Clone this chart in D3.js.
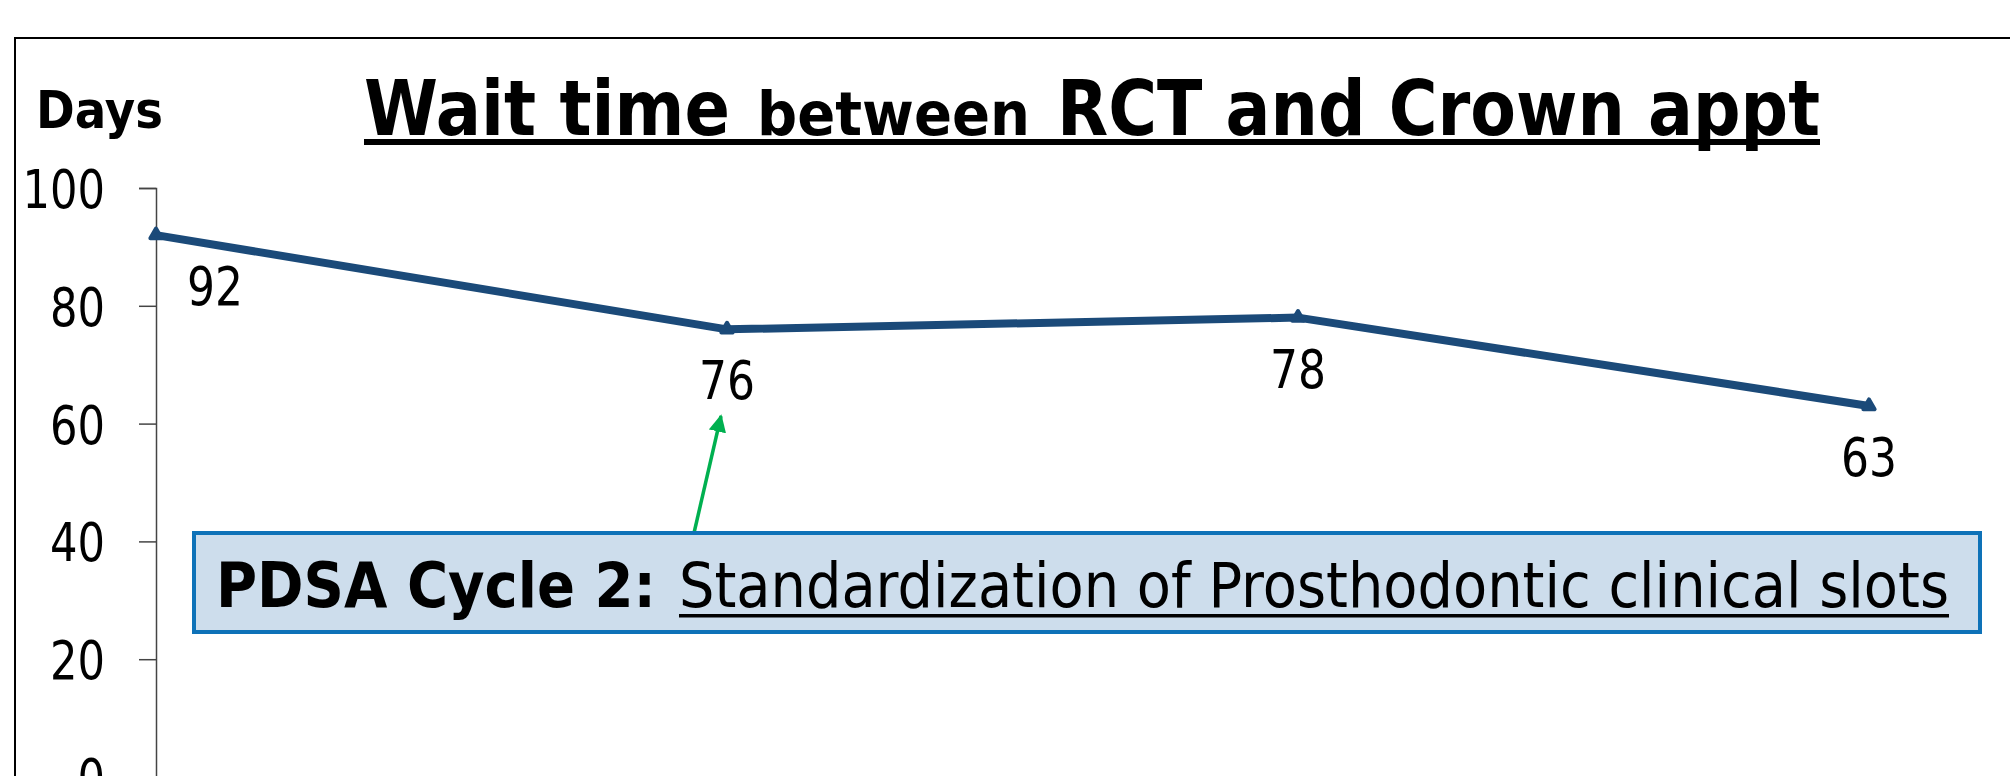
<!DOCTYPE html>
<html>
<head>
<meta charset="utf-8">
<script src="https://cdn.jsdelivr.net/npm/d3@7/dist/d3.min.js"></script>
<style>
html,body{margin:0;padding:0;background:#fff;overflow:hidden;}
svg{display:block;}
text{font-family:"DejaVu Sans",Verdana,sans-serif;fill:#000;}
</style>
</head>
<body>
<svg id="chart" width="2010" height="776"></svg>
<script>
// ---- data ----
const categories = ["Period 1", "Period 2", "Period 3", "Period 4"];
const waitDays = [92, 76, 78, 63];
const yTicks = [0, 20, 40, 60, 80, 100];
const titleParts = ["Wait time", "between", "RCT and Crown appt"];
const yAxisTitle = "Days";
const noteBold = "PDSA Cycle 2:";
const noteText = "Standardization of Prosthodontic clinical slots";

const svg = d3.select("#chart");

// outer chart frame
svg.append("rect")
  .attr("x", 15).attr("y", 38).attr("width", 2100).attr("height", 900)
  .attr("fill", "none").attr("stroke", "#000").attr("stroke-width", 2);

const x = d3.scalePoint().domain(categories).range([156, 1869]).padding(0);
const y = d3.scaleLinear().domain([0, 100]).range([777, 188]);

// y axis
const yAxis = svg.append("g")
  .attr("transform", "translate(156,0)")
  .call(d3.axisLeft(y).tickValues(yTicks).tickSize(17).tickPadding(34));
yAxis.select(".domain").attr("stroke", "#444").attr("stroke-width", 1.5);
yAxis.selectAll(".tick line").attr("stroke", "#444").attr("stroke-width", 1.5);
yAxis.selectAll(".tick text")
  .attr("font-family", "DejaVu Sans")
  .attr("font-size", 54)
  .attr("dy", "0.36em")
  .attr("fill", "#000")
  .attr("textLength", d => String(d).length * 27.5)
  .attr("lengthAdjust", "spacingAndGlyphs");

// x axis baseline (category labels lie below the visible frame, not shown)
svg.append("g")
  .attr("transform", "translate(0,777)")
  .call(d3.axisBottom(x).tickSize(0).tickFormat(""))
  .call(g => g.select(".domain").attr("stroke", "#444"));

// line
const data = categories.map((c, i) => ({c, v: waitDays[i]}));
svg.append("path")
  .datum(data)
  .attr("fill", "none")
  .attr("stroke", "#1B4A79")
  .attr("stroke-width", 8)
  .attr("stroke-linejoin", "round")
  .attr("d", d3.line().x(d => x(d.c)).y(d => y(d.v)));

svg.selectAll(".mk").data(data).enter().append("path")
  .attr("class", "mk")
  .attr("transform", d => `translate(${x(d.c)},${y(d.v)})`)
  .attr("d", d3.symbol().type(d3.symbolTriangle).size(55))
  .attr("fill", "#1B4A79")
  .attr("stroke", "#1B4A79").attr("stroke-width", 4).attr("stroke-linejoin", "round");

// data labels
svg.selectAll(".dl").data(data).enter().append("text")
  .attr("class", "dl")
  .attr("x", (d, i) => x(d.c) + (i === 0 ? 59 : 0))
  .attr("y", d => y(d.v) + 70)
  .attr("text-anchor", "middle")
  .attr("font-size", 54)
  .attr("textLength", d => String(d.v).length * 28)
  .attr("lengthAdjust", "spacingAndGlyphs")
  .text(d => d.v);

// axis title
svg.append("text")
  .attr("x", 36).attr("y", 128)
  .attr("font-size", 51).attr("font-weight", "bold")
  .attr("textLength", 127).attr("lengthAdjust", "spacingAndGlyphs")
  .text(yAxisTitle);

// chart title
const tSpecs = [
  {t: titleParts[0], x: 364, w: 366, fs: 76},
  {t: titleParts[1], x: 757, w: 273, fs: 61},
  {t: titleParts[2], x: 1057, w: 763, fs: 76}
];
tSpecs.forEach(s => {
  svg.append("text")
    .attr("x", s.x).attr("y", 135)
    .attr("font-size", s.fs).attr("font-weight", "bold")
    .attr("textLength", s.w).attr("lengthAdjust", "spacingAndGlyphs")
    .text(s.t);
});
svg.append("rect")
  .attr("x", 364).attr("y", 139).attr("width", 1456).attr("height", 6)
  .attr("fill", "#000");

// annotation arrow
const defs = svg.append("defs");
defs.append("marker")
  .attr("id", "ah").attr("viewBox", "0 0 10 10")
  .attr("refX", 9).attr("refY", 5)
  .attr("markerWidth", 5).attr("markerHeight", 5)
  .attr("markerUnits", "strokeWidth")
  .attr("orient", "auto")
  .append("path").attr("d", "M0,0 L10,5 L0,10 Z").attr("fill", "#00B050");

svg.append("line")
  .attr("x1", x(categories[1]) - 33).attr("y1", 533)
  .attr("x2", x(categories[1]) - 6).attr("y2", 416)
  .attr("stroke", "#00B050").attr("stroke-width", 3.5)
  .attr("marker-end", "url(#ah)");

// annotation box
svg.append("rect")
  .attr("x", 194).attr("y", 533).attr("width", 1786).attr("height", 99)
  .attr("fill", "#CDDDEC").attr("stroke", "#0E72B8").attr("stroke-width", 4);

svg.append("text")
  .attr("transform", "translate(216,607) scale(1,1.2)")
  .attr("font-size", 52).attr("font-weight", "bold")
  .attr("textLength", 440).attr("lengthAdjust", "spacingAndGlyphs")
  .text(noteBold);
svg.append("text")
  .attr("transform", "translate(679,607) scale(1,1.26)")
  .attr("font-size", 50)
  .attr("textLength", 1270).attr("lengthAdjust", "spacingAndGlyphs")
  .text(noteText);
svg.append("rect")
  .attr("x", 679).attr("y", 614).attr("width", 1270).attr("height", 3.5)
  .attr("fill", "#000");
</script>
</body>
</html>
